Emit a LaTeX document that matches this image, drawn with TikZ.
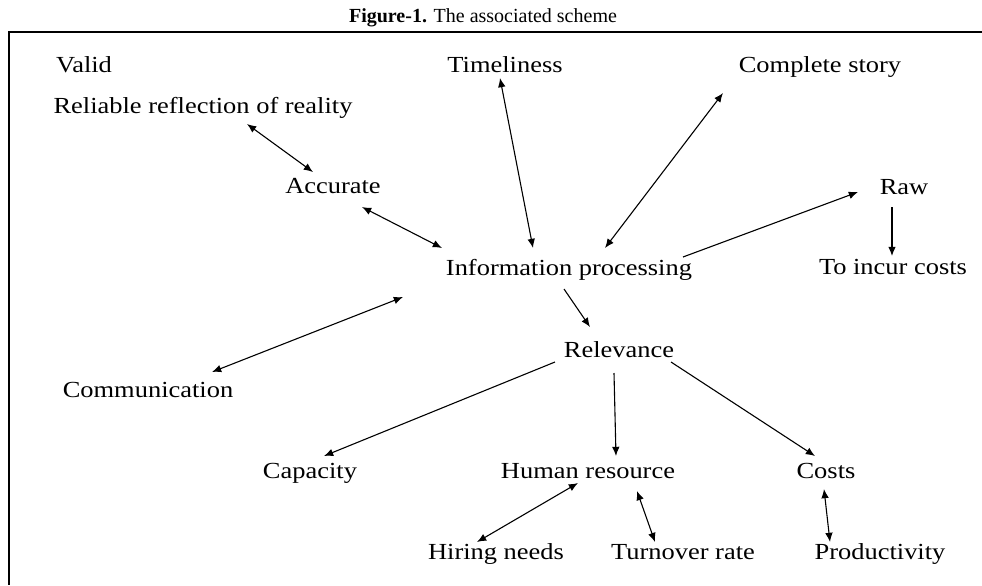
\documentclass[tikz,border=0pt]{standalone}
\usepackage{fontspec}
\setmainfont{Liberation Serif}[FakeStretch=1.15]
\newfontfamily\titlefont{Liberation Serif}
\usetikzlibrary{arrows.meta}

\begin{document}
\begin{tikzpicture}[x=0.5pt, y=-0.5pt,
    every node/.style={inner sep=0pt, anchor=base, font=\fontsize{11.5}{13}\selectfont},
    >={Latex[length=4.6pt,width=3.8pt]},
    twoway/.style={<->, line width=0.55pt},
    oneway/.style={->, line width=0.55pt}]
  \useasboundingbox (0,0) rectangle (982,585);
  \draw [line width=1pt] (982,32) -- (9,32) -- (9,585);
  \node [anchor=center, font=\titlefont\fontsize{10}{12}\selectfont] (title) at (483,18) {\textbf{Figure-1.} The associated scheme};

  % top row and left column
  \node (valid) at (84,72) {Valid};
  \node (reliable) at (203,113) {Reliable reflection of reality};
  \node (acc) at (333,193) {Accurate};
  \node (time) at (505,72) {Timeliness};
  \node (story) at (820,72) {Complete story};
  \node (raw) at (904,194) {Raw};
  \node (info) at (569,275) {Information processing};
  \node (incur) at (893,274) {To incur costs};
  \node (comm) at (148,397) {Communication};
  \node (relev) at (619,357) {Relevance};
  % lower rows
  \node (cap) at (310,478) {Capacity};
  \node (hr) at (588,478) {Human resource};
  \node (costs) at (826,478) {Costs};
  \node (hire) at (496,559) {Hiring needs};
  \node (turn) at (683,559) {Turnover rate};
  \node (prod) at (880,559) {Productivity};

  \draw [twoway] ([shift={(44,11)}]reliable.base) -- ([shift={(-20,-21)}]acc.base);
  \draw [twoway] ([shift={(29,14)}]acc.base) -- ([shift={(-127,-27)}]info.base);
  \draw [twoway] ([shift={(-5,6)}]time.base) -- ([shift={(-36,-27)}]info.base);
  \draw [twoway] ([shift={(-97,21)}]story.base) -- ([shift={(36,-27)}]info.base);
  \draw [oneway] ([shift={(114,-18)}]info.base) -- ([shift={(-46,-2)}]raw.base);
  \draw [oneway] ([shift={(-12,13)}]raw.base) -- ([shift={(-1,-18)}]incur.base);
  \draw [twoway] ([shift={(64,-25)}]comm.base) -- ([shift={(-166,22)}]info.base);
  \draw [oneway] ([shift={(-5,14)}]info.base) -- ([shift={(-29,-30)}]relev.base);
  \draw [oneway] ([shift={(-64,5)}]relev.base) -- ([shift={(14,-22)}]cap.base);
  \draw [oneway] ([shift={(-5,16)}]relev.base) -- ([shift={(28,-22)}]hr.base);
  \draw [oneway] ([shift={(52,5)}]relev.base) -- ([shift={(-11,-22)}]costs.base);
  \draw [twoway] ([shift={(-10,5)}]hr.base) -- ([shift={(-19,-17)}]hire.base);
  \draw [twoway] ([shift={(49,13)}]hr.base) -- ([shift={(-28,-17)}]turn.base);
  \draw [twoway] ([shift={(-2,11)}]costs.base) -- ([shift={(-50,-17)}]prod.base);
\end{tikzpicture}
\end{document}
